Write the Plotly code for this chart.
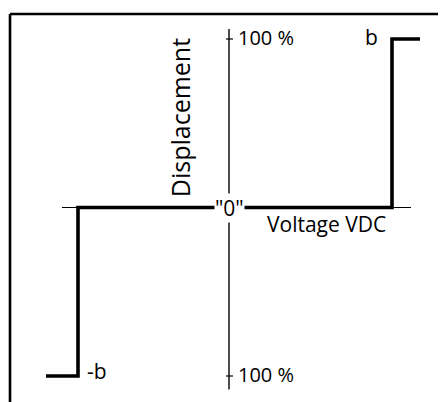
import plotly.graph_objects as go

# Data (step response: voltage offset vs displacement %)
voltage = [-183, -151, -151, 163, 163, 191]
displacement = [-100, -100, 0, 0, 100, 100]

# Axis extents
x_axis_extent = [-167, 182]
y_axis_extent = [-108, 106]
tick_values = [100, -100]
tick_labels = ["100 %", "100 %"]

W, H = 446, 402
OFF = 8  # default page body margin
AXIS_X_PX = 229 - OFF
X0, X1 = -AXIS_X_PX, W - AXIS_X_PX
PX_PER_Y = 1.685
Y_ZERO_PX = 207.5 - OFF
Y_TOP = Y_ZERO_PX / PX_PER_Y
Y_BOT = -(H - Y_ZERO_PX) / PX_PER_Y

FONT = "Open Sans"

fig = go.Figure()

# horizontal (voltage) axis
fig.add_trace(go.Scatter(x=x_axis_extent, y=[0, 0], mode="lines",
                         line=dict(color="black", width=1.2), hoverinfo="skip"))
# vertical (displacement) axis
fig.add_trace(go.Scatter(x=[0, 0], y=y_axis_extent, mode="lines",
                         line=dict(color="black", width=1.4), hoverinfo="skip"))
# ticks
for tv in tick_values:
    fig.add_trace(go.Scatter(x=[-3, 4], y=[tv, tv], mode="lines",
                             line=dict(color="black", width=1.2), hoverinfo="skip"))
# step line
fig.add_trace(go.Scatter(x=voltage, y=displacement, mode="lines",
                         line=dict(color="black", width=3.6, shape="linear"),
                         hoverinfo="skip"))

anns = []
for tv, tl in zip(tick_values, tick_labels):
    anns.append(dict(x=0, y=tv, text=tl, showarrow=False, xanchor="left",
                     yanchor="middle", xshift=7, yshift=2,
                     font=dict(family=FONT, size=20, color="black")))
anns.append(dict(x=voltage[3], y=displacement[4], text="b", showarrow=False,
                 xanchor="right", yanchor="middle", xshift=-12, yshift=2,
                 font=dict(family=FONT, size=21, color="black")))
anns.append(dict(x=voltage[1], y=displacement[1], text="-b", showarrow=False,
                 xanchor="left", yanchor="middle", xshift=7, yshift=5,
                 font=dict(family=FONT, size=21, color="black")))
anns.append(dict(x=0, y=0, text='"0"', showarrow=False, xanchor="center",
                 yanchor="middle", bgcolor="white", borderpad=0,
                 font=dict(family=FONT, size=21, color="black")))
anns.append(dict(x=97, y=-10, text="Voltage VDC", showarrow=False,
                 xanchor="center", yanchor="middle",
                 font=dict(family=FONT, size=21, color="black")))
anns.append(dict(x=-49, y=53, text="Displacement", showarrow=False,
                 textangle=-90, xanchor="center", yanchor="middle",
                 font=dict(family=FONT, size=25, color="black")))

shapes = [
    dict(type="line", xref="paper", yref="paper", x0=(10 - OFF) / W, x1=1.05,
         y0=1 - (14 - OFF) / H, y1=1 - (14 - OFF) / H,
         line=dict(color="black", width=2.6)),
    dict(type="line", xref="paper", yref="paper", x0=(10 - OFF) / W,
         x1=(10 - OFF) / W, y0=1 - (14 - OFF) / H, y1=-0.05,
         line=dict(color="black", width=2.6)),
]

fig.update_layout(
    width=W, height=H,
    margin=dict(l=0, r=0, t=0, b=0),
    paper_bgcolor="white", plot_bgcolor="white",
    showlegend=False,
    xaxis=dict(range=[X0, X1], visible=False, fixedrange=True),
    yaxis=dict(range=[Y_BOT, Y_TOP], visible=False, fixedrange=True),
    annotations=anns, shapes=shapes,
)

fig.write_html("out.html")
